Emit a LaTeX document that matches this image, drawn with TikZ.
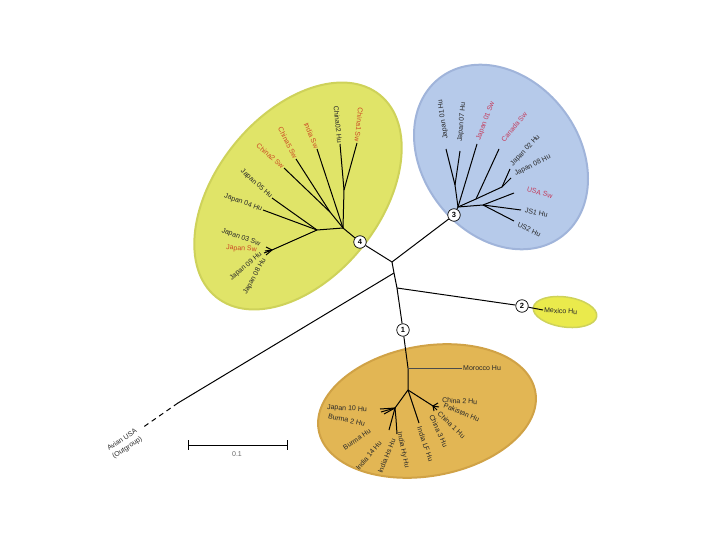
\documentclass[tikz,border=0pt]{standalone}
\usepackage{fontspec}
\setmainfont{Liberation Sans}
\definecolor{yellowclade}{RGB}{224,228,104}
\definecolor{yellowedge}{RGB}{206,210,90}
\definecolor{blueclade}{RGB}{182,202,234}
\definecolor{blueedge}{RGB}{160,180,218}
\definecolor{orangeclade}{RGB}{226,182,84}
\definecolor{orangeedge}{RGB}{208,162,70}
\definecolor{mexclade}{RGB}{234,234,76}
\definecolor{swred}{RGB}{204,72,36}
\definecolor{swpink}{RGB}{196,60,92}
\definecolor{labgray}{RGB}{40,40,40}

\begin{document}
\begin{tikzpicture}[x=1pt,y=-1pt,
    branch/.style={black, line width=1pt},
    leaf/.style={font=\fontsize{7}{8}\selectfont, inner sep=1pt, text=labgray},
    swleaf/.style={leaf, text=swred},
    swpleaf/.style={leaf, text=swpink},
    num/.style={circle, draw, fill=white, line width=0.7pt, inner sep=0pt,
                minimum size=12.5pt, font=\fontsize{7.5}{8}\selectfont\bfseries}]
    \useasboundingbox (0,0) rectangle (720,540);

    % clade ellipses
    \filldraw[fill=yellowclade, draw=yellowedge, line width=2pt, shift={(298,196)}, rotate=51]
        (0,0) ellipse [x radius=130, y radius=82];
    \filldraw[fill=blueclade, draw=blueedge, line width=2pt, shift={(501,157)}, rotate=-52]
        (0,0) ellipse [x radius=100, y radius=78];
    \filldraw[fill=orangeclade, draw=orangeedge, line width=2pt, shift={(427,411)}, rotate=10]
        (0,0) ellipse [x radius=110, y radius=65];
    \filldraw[fill=mexclade, draw=yellowedge, line width=1.5pt, shift={(565,312)}, rotate=-8]
        (0,0) ellipse [x radius=32, y radius=15];

    % backbone
    \node[num] (n4) at (360,242) {4};
    \node[num] (n3) at (454,215) {3};
    \node[num] (n2) at (522,306) {2};
    \node[num] (n1) at (403,330) {1};
    \coordinate (rA) at (392,262);
    \coordinate (rB) at (394,273);
    \coordinate (rC) at (397,288);
    \coordinate (outA) at (178,403);
    \coordinate (outB) at (142,428);
    \draw[branch] (n4) -- (rA) -- (n3);
    \draw[branch] (rA) -- (rB) -- (rC) -- (n1);
    \draw[branch] (rB) -- (outA);
    \draw[branch, dash pattern=on 5pt off 4pt] (outA) -- (outB);
    \draw[branch] (rC) -- (n2);
    \node[leaf, font=\fontsize{7}{9.5}\selectfont, rotate=33, align=center, anchor=east] (outlab)
        at (140,434) {Avian USA\\(Outgroup)};

    % clade 2
    \coordinate (mexTip) at (543,310);
    \draw[branch] (n2) -- (mexTip);
    \node[leaf, anchor=west, rotate=-3] (mex) at (mexTip) {Mexico Hu};

    % clade 4
    \coordinate (y1) at (343,228);
    \coordinate (y4) at (344,190);
    \coordinate (y5) at (330,212);
    \coordinate (y3) at (317,230);
    \coordinate (y6) at (272,250);
    \coordinate (tChinaA) at (357,143);
    \coordinate (tChinaB) at (340,144);
    \coordinate (tIndia) at (317,149);
    \coordinate (tChinaC) at (296,159);
    \coordinate (tChinaD) at (284,168);
    \coordinate (tJapE) at (272,198);
    \coordinate (tJapD) at (263,210);
    \coordinate (tJapC) at (266,247);
    \coordinate (tJapSw) at (265,251);
    \coordinate (tJapI) at (264,253);
    \coordinate (tJapH) at (266,255);
    \draw[branch] (n4) -- (y1) -- (y4) -- (tChinaA);
    \draw[branch] (y4) -- (tChinaB);
    \draw[branch] (y1) -- (tIndia);
    \draw[branch] (y1) -- (y5) -- (tChinaC);
    \draw[branch] (y5) -- (tChinaD);
    \draw[branch] (y1) -- (y3) -- (tJapE);
    \draw[branch] (y3) -- (tJapD);
    \draw[branch] (y3) -- (y6);
    \draw[branch] (y6) -- (tJapC);
    \draw[branch] (y6) -- (tJapSw);
    \draw[branch] (y6) -- (tJapI);
    \draw[branch] (y6) -- (tJapH);
    \node[swleaf, anchor=east, rotate=-96] (lChinaA) at (tChinaA) {China1 Sw};
    \node[leaf, anchor=east, rotate=-84] (lChinaB) at (tChinaB) {China02 Hu};
    \node[swleaf, anchor=east, rotate=-67] (lIndia) at (tIndia) {India Sw};
    \node[swleaf, anchor=east, rotate=-63] (lChinaC) at (tChinaC) {China5 Sw};
    \node[swleaf, anchor=east, rotate=-41] (lChinaD) at (tChinaD) {China2 Sw};
    \node[leaf, anchor=east, rotate=-42] (lJapE) at (tJapE) {Japan 05 Hu};
    \node[leaf, anchor=east, rotate=-20] (lJapD) at (tJapD) {Japan 04 Hu};
    \node[leaf, anchor=east, rotate=-20] (lJapC) at (261,245) {Japan 03 Sw};
    \node[swleaf, anchor=east, rotate=-4] (lJapSw) at (258,250) {Japan Sw};
    \node[leaf, anchor=east, rotate=40] (lJapI) at (262,253) {Japan 09 Hu};
    \node[leaf, anchor=east, rotate=61] (lJapH) at (265,258) {Japan 08 Hu};

    % clade 3
    \coordinate (b0) at (458,207);
    \coordinate (b1) at (455,185);
    \coordinate (b2) at (483,205);
    \coordinate (b3) at (502,187);
    \coordinate (b4) at (476,199);
    \coordinate (tJapA) at (446,149);
    \coordinate (tJapG) at (460,151);
    \coordinate (tJapSwA) at (477,144);
    \coordinate (tCanada) at (499,149);
    \coordinate (tJapB) at (510,169);
    \coordinate (tJapK) at (511,178);
    \coordinate (tUSA) at (514,193);
    \coordinate (tJS) at (521,210);
    \coordinate (tUS) at (514,221);
    \draw[branch] (n3) -- (b0) -- (b1) -- (tJapA);
    \draw[branch] (b1) -- (tJapG);
    \draw[branch] (b0) -- (tJapSwA);
    \draw[branch] (b0) -- (b4) -- (tCanada);
    \draw[branch] (b4) -- (b3) -- (tJapB);
    \draw[branch] (b3) -- (tJapK);
    \draw[branch] (b0) -- (b2) -- (tUSA);
    \draw[branch] (b2) -- (tJS);
    \draw[branch] (b2) -- (tUS);
    \node[leaf, anchor=west, rotate=98] (lJapA) at (446,140) {Japan 01 Hu};
    \node[leaf, anchor=west, rotate=85] (lJapG) at (460,143) {Japan 07 Hu};
    \node[swpleaf, anchor=west, rotate=69] (lJapSwA) at (478,141) {Japan 01 Sw};
    \node[swpleaf, anchor=west, rotate=51] (lCanada) at (502,142) {Canada Sw};
    \node[leaf, anchor=west, rotate=47] (lJapB) at (511,166) {Japan 02 Hu};
    \node[leaf, anchor=west, rotate=27] (lJapK) at (514,175) {Japan 08 Hu};
    \node[swpleaf, anchor=west, rotate=-15] (lUSA) at (526,189) {USA Sw};
    \node[leaf, anchor=west, rotate=-12] (lJS) at (524,210) {JS1 Hu};
    \node[leaf, anchor=west, rotate=-25] (lUS) at (517,224) {US2 Hu};

    % clade 1
    \coordinate (oA) at (408,368);
    \coordinate (oC) at (408,390);
    \coordinate (oL) at (395,408);
    \coordinate (oM) at (396,419);
    \coordinate (oR) at (433,406);
    \coordinate (morTip) at (462,368);
    \coordinate (tBurma) at (389,430);
    \coordinate (tIndiaH) at (397,434);
    \coordinate (tIndiaLF) at (419,423);
    \draw[branch] (n1) -- (oA) -- (oC);
    \draw[black!70, line width=0.5pt] (oA) -- (morTip);
    \draw[branch] (oC) -- (oL) -- (tBurma);
    \draw[branch] (oL) -- (oM) -- (tIndiaH);
    \draw[branch] (oC) -- (tIndiaLF);
    \draw[branch] (oC) -- (oR);
    \foreach \fx/\fy in {380/409, 381/412, 384/414}
        \draw[branch] (oL) -- (\fx,\fy);
    \foreach \fx/\fy in {438/403, 439/407, 437/410, 434/411}
        \draw[branch] (oR) -- (\fx,\fy);
    \node[leaf, anchor=west] (lMor) at (morTip) {Morocco Hu};
    \node[leaf, anchor=east, rotate=-3] (lJapJ) at (368,410) {Japan 10 Hu};
    \node[leaf, anchor=east, rotate=-12] (lBurmaB) at (366,424) {Burma 2 Hu};
    \node[leaf, anchor=east, rotate=34] (lBurma) at (371,430) {Burma Hu};
    \node[leaf, anchor=east, rotate=50] (lIndiaN) at (381,441) {India 14 Hu};
    \node[leaf, anchor=east, rotate=68] (lIndiaS) at (394,438) {India Hs Hu};
    \node[leaf, anchor=west, rotate=-78] (lIndiaY) at (399,431) {India Hy Hu};
    \node[leaf, anchor=west, rotate=-71] (lIndiaLF) at (419,426) {India LF Hu};
    \node[leaf, anchor=west, rotate=-66] (lChinaT) at (431,414) {China 3 Hu};
    \node[leaf, anchor=west, rotate=-44] (lChinaO) at (438,412) {China 1 Hu};
    \node[leaf, anchor=west, rotate=-22] (lPak) at (443,405) {Pakistan Hu};
    \node[leaf, anchor=west, rotate=-3] (lChinaW) at (441,400) {China 2 Hu};

    % scale bar
    \coordinate (sbL) at (188,445);
    \coordinate (sbR) at (287,445);
    \draw[branch] (sbL) -- (sbR);
    \draw[branch] (sbL) ++(0,-5) -- ++(0,10);
    \draw[branch] (sbR) ++(0,-5) -- ++(0,10);
    \node[leaf, text=black!60] (sbLab) at (237,454) {0.1};
\end{tikzpicture}
\end{document}
